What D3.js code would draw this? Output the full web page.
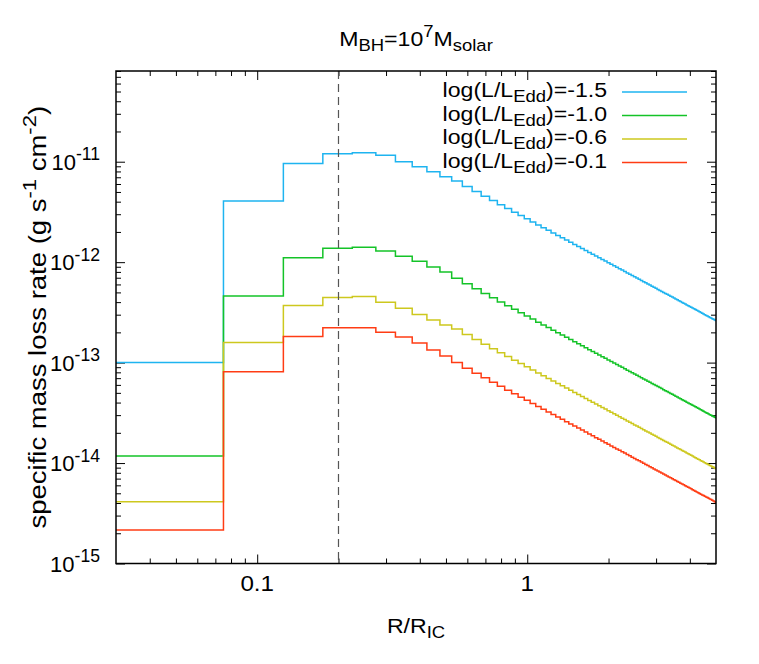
<!DOCTYPE html>
<html>
<head>
<meta charset="utf-8">
<script src="https://cdn.jsdelivr.net/npm/d3@7"></script>
<style>
body { margin: 0; background: #fff; }
text { font-family: "Liberation Sans", Arial, Helvetica, sans-serif; fill: #000; }
</style>
</head>
<body>
<div id="chart"></div>
<script>
// radial bins of R/R_IC, uniform 0.05 grid (bin centres 0.05 ... 5.00)
var binWidth = 0.05;
var radius = d3.range(1, 101).map(function (k) { return +(k * binWidth).toFixed(2); });

// legend labels and colours
var lumLabels = ["-1.5", "-1.0", "-0.6", "-0.1"];
var lumColors = ["#1eb4f0", "#14c328", "#cdc81e", "#ff3c14"];

// log10 of the specific mass loss rate (g s^-1 cm^-2) in each bin
var logRateM15 = [
  -13.000, -11.391, -11.018, -10.921, -10.910, -10.936, -11.000, -11.051, -11.100, -11.150,
  -11.192, -11.247, -11.297, -11.344, -11.387, -11.428, -11.466, -11.502, -11.536, -11.568,
  -11.599, -11.629, -11.657, -11.683, -11.709, -11.734, -11.757, -11.780, -11.802, -11.824,
  -11.844, -11.864, -11.884, -11.903, -11.921, -11.939, -11.956, -11.973, -11.989, -12.005,
  -12.021, -12.036, -12.051, -12.065, -12.079, -12.093, -12.107, -12.120, -12.133, -12.146,
  -12.158, -12.170, -12.182, -12.194, -12.206, -12.217, -12.228, -12.239, -12.250, -12.260,
  -12.271, -12.281, -12.291, -12.301, -12.311, -12.320, -12.330, -12.339, -12.348, -12.357,
  -12.366, -12.375, -12.384, -12.392, -12.401, -12.409, -12.417, -12.426, -12.434, -12.441,
  -12.449, -12.457, -12.465, -12.472, -12.480, -12.487, -12.494, -12.502, -12.509, -12.516,
  -12.523, -12.530, -12.536, -12.543, -12.550, -12.556, -12.563, -12.569, -12.576, -12.582
];
var logRateM10 = [
  -13.929, -12.336, -11.957, -11.861, -11.851, -11.890, -11.941, -11.991, -12.048, -12.099,
  -12.160, -12.215, -12.265, -12.312, -12.355, -12.396, -12.434, -12.470, -12.504, -12.536,
  -12.567, -12.597, -12.625, -12.651, -12.677, -12.702, -12.725, -12.748, -12.770, -12.792,
  -12.812, -12.832, -12.852, -12.871, -12.889, -12.907, -12.924, -12.941, -12.957, -12.973,
  -12.989, -13.004, -13.019, -13.033, -13.047, -13.061, -13.075, -13.088, -13.101, -13.114,
  -13.126, -13.138, -13.150, -13.162, -13.174, -13.185, -13.196, -13.207, -13.218, -13.228,
  -13.239, -13.249, -13.259, -13.269, -13.279, -13.288, -13.298, -13.307, -13.316, -13.325,
  -13.334, -13.343, -13.352, -13.360, -13.369, -13.377, -13.385, -13.394, -13.402, -13.409,
  -13.417, -13.425, -13.433, -13.440, -13.448, -13.455, -13.462, -13.470, -13.477, -13.484,
  -13.491, -13.498, -13.504, -13.511, -13.518, -13.524, -13.531, -13.537, -13.544, -13.550
];
var logRateM06 = [
  -14.384, -12.801, -12.432, -12.351, -12.341, -12.400, -12.460, -12.520, -12.575, -12.625,
  -12.666, -12.721, -12.771, -12.818, -12.861, -12.902, -12.940, -12.976, -13.010, -13.042,
  -13.073, -13.103, -13.131, -13.157, -13.183, -13.208, -13.231, -13.254, -13.276, -13.298,
  -13.318, -13.338, -13.358, -13.377, -13.395, -13.413, -13.430, -13.447, -13.463, -13.479,
  -13.495, -13.510, -13.525, -13.539, -13.553, -13.567, -13.581, -13.594, -13.607, -13.620,
  -13.632, -13.644, -13.656, -13.668, -13.680, -13.691, -13.702, -13.713, -13.724, -13.734,
  -13.745, -13.755, -13.765, -13.775, -13.785, -13.794, -13.804, -13.813, -13.822, -13.831,
  -13.840, -13.849, -13.858, -13.866, -13.875, -13.883, -13.891, -13.900, -13.908, -13.915,
  -13.923, -13.931, -13.939, -13.946, -13.954, -13.961, -13.968, -13.976, -13.983, -13.990,
  -13.997, -14.004, -14.010, -14.017, -14.024, -14.030, -14.037, -14.043, -14.050, -14.056
];
var logRateM01 = [
  -14.666, -13.090, -12.741, -12.654, -12.654, -12.697, -12.744, -12.805, -12.875, -12.935,
  -13.000, -13.055, -13.105, -13.152, -13.195, -13.236, -13.274, -13.310, -13.344, -13.376,
  -13.407, -13.437, -13.465, -13.491, -13.517, -13.542, -13.565, -13.588, -13.610, -13.632,
  -13.652, -13.672, -13.692, -13.711, -13.729, -13.747, -13.764, -13.781, -13.797, -13.813,
  -13.829, -13.844, -13.859, -13.873, -13.887, -13.901, -13.915, -13.928, -13.941, -13.954,
  -13.966, -13.978, -13.990, -14.002, -14.014, -14.025, -14.036, -14.047, -14.058, -14.068,
  -14.079, -14.089, -14.099, -14.109, -14.119, -14.128, -14.138, -14.147, -14.156, -14.165,
  -14.174, -14.183, -14.192, -14.200, -14.209, -14.217, -14.225, -14.234, -14.242, -14.249,
  -14.257, -14.265, -14.273, -14.280, -14.288, -14.295, -14.302, -14.310, -14.317, -14.324,
  -14.331, -14.338, -14.344, -14.351, -14.358, -14.364, -14.371, -14.377, -14.384, -14.390
];

// tick values
var xMajor = [0.1, 1];
var xMinor = [0.04, 0.05, 0.06, 0.07, 0.08, 0.09, 0.2, 0.3, 0.4, 0.5, 0.6, 0.7, 0.8, 0.9, 2, 3, 4];
var yMajorExp = [-15, -14, -13, -12, -11];
var xMarker = 0.2; // dashed reference line

var allSeries = [logRateM15, logRateM10, logRateM06, logRateM01];

var width = 759;
var height = 664;
var plotLeft = 116, plotRight = 716, plotTop = 71, plotBottom = 563.5;

var svg = d3.select("#chart")
    .append("svg")
    .attr("width", width)
    .attr("height", height);

svg.append("rect").attr("width", width).attr("height", height).attr("fill", "#fff");

var xScale = d3.scaleLog().domain([0.03, 5]).range([plotLeft, plotRight]);
var yScale = d3.scaleLog().domain([1e-15, 8e-11]).range([plotBottom, plotTop]);

// minor y ticks: 2..9 in each decade inside the range
var yMinor = [];
yMajorExp.forEach(function (e) {
    for (var m = 2; m <= 9; m++) {
        var v = m * Math.pow(10, e);
        if (v <= 8e-11) yMinor.push(v);
    }
});
var yMajor = yMajorExp.map(function (e) { return Math.pow(10, e); });

// ticks on all four sides, pointing inward
function tickGroup(axis, tx, ty) {
    var g = svg.append("g")
        .attr("transform", "translate(" + tx + "," + ty + ")")
        .call(axis);
    g.select(".domain").remove();
    g.selectAll(".tick line").attr("stroke", "#000").attr("stroke-width", 1);
    g.selectAll(".tick text").remove();
}
[[xMajor, 9], [xMinor, 5]].forEach(function (t) {
    tickGroup(d3.axisBottom(xScale).tickValues(t[0]).tickSize(-t[1]), 0, plotBottom);
    tickGroup(d3.axisTop(xScale).tickValues(t[0]).tickSize(-t[1]), 0, plotTop);
});
[[yMajor, 9], [yMinor, 5]].forEach(function (t) {
    tickGroup(d3.axisLeft(yScale).tickValues(t[0]).tickSize(-t[1]), plotLeft, 0);
    tickGroup(d3.axisRight(yScale).tickValues(t[0]).tickSize(-t[1]), plotRight, 0);
});

// clip for the step lines
svg.append("clipPath").attr("id", "plotClip")
    .append("rect")
    .attr("x", plotLeft).attr("y", plotTop)
    .attr("width", plotRight - plotLeft).attr("height", plotBottom - plotTop);

var stepLine = d3.line()
    .x(function (d) { return xScale(d.r); })
    .y(function (d) { return yScale(d.v); })
    .curve(d3.curveStepAfter);

allSeries.forEach(function (logs, i) {
    var pts = radius.map(function (r, j) {
        return { r: r - binWidth / 2, v: Math.pow(10, logs[j]) };
    });
    pts.push({ r: radius[radius.length - 1] + binWidth / 2, v: Math.pow(10, logs[logs.length - 1]) });
    svg.append("path")
        .datum(pts)
        .attr("clip-path", "url(#plotClip)")
        .attr("fill", "none")
        .attr("stroke", lumColors[i])
        .attr("stroke-width", 1.5)
        .attr("d", stepLine);
});

// dashed line at R/R_IC = 0.2
svg.append("line")
    .attr("x1", xScale(xMarker)).attr("x2", xScale(xMarker))
    .attr("y1", plotTop).attr("y2", plotBottom)
    .attr("stroke", "#555")
    .attr("stroke-width", 1.2)
    .attr("stroke-dasharray", "8,5");

// frame
svg.append("rect")
    .attr("x", plotLeft).attr("y", plotTop)
    .attr("width", plotRight - plotLeft).attr("height", plotBottom - plotTop)
    .attr("fill", "none")
    .attr("stroke", "#000")
    .attr("stroke-width", 1.5);

// text helper: parts are [string, "sub"|"sup"|""]
function richText(x, y, anchor, parts, opts) {
    opts = opts || {};
    var size = opts.size || 21;
    var sx = opts.stretch || 1.1;   // glyphs in the reference are a bit wide
    var t = svg.append("text")
        .attr("transform", "translate(" + x + "," + y + ") scale(" + sx + ",1)" + (opts.rotate ? " rotate(-90)" : ""))
        .attr("text-anchor", anchor)
        .attr("font-size", size);
    var shift = 0;
    parts.forEach(function (p) {
        var target = p[1] === "sub" ? size * 0.24 : p[1] === "sup" ? -size * 0.43 : 0;
        t.append("tspan")
            .attr("dy", target - shift)
            .attr("font-size", p[1] ? size * 0.8 : size)
            .text(p[0]);
        shift = target;
    });
    return t;
}

// x tick labels
xMajor.forEach(function (v) {
    richText(xScale(v), 591, "middle", [[v === 1 ? "1" : String(v), ""]], { size: 22 });
});

// y tick labels
yMajorExp.forEach(function (e) {
    richText(100, yScale(Math.pow(10, e)) + 8, "end", [["10", ""], [String(e), "sup"]], { size: 22, stretch: 1.0 });
});

// title
richText(416, 46, "middle", [["M", ""], ["BH", "sub"], ["=10", ""], ["7", "sup"], ["M", ""], ["solar", "sub"]]);

// axis labels
richText(416, 633, "middle", [["R/R", ""], ["IC", "sub"]]);
richText(46, (plotTop + plotBottom) / 2, "middle",
    [["specific mass loss rate (g s", ""], ["-1", "sup"], [" cm", ""], ["-2", "sup"], [")", ""]],
    { size: 27.5, stretch: 0.85, rotate: true });

// legend
lumLabels.forEach(function (lab, i) {
    var ly = 92 + i * 23.5;
    richText(607, ly + 5, "end", [["log(L/L", ""], ["Edd", "sub"], [")=" + lab, ""]]);
    svg.append("line")
        .attr("x1", 622).attr("x2", 687)
        .attr("y1", ly).attr("y2", ly)
        .attr("stroke", lumColors[i])
        .attr("stroke-width", 1.5);
});
</script>
</body>
</html>
